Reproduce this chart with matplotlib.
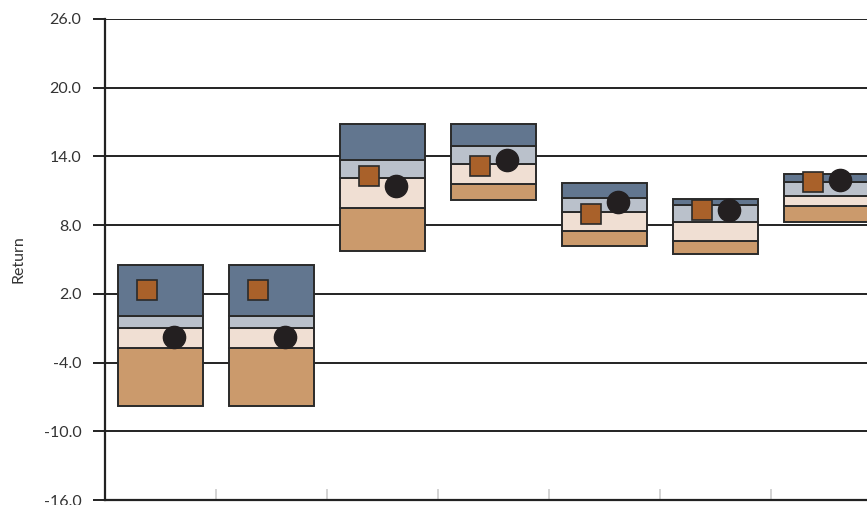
import numpy as np
from matplotlib import pyplot as plt

# percentile bands per group, bottom to top
p5 = [-7.8, -7.8, 5.7, 10.2, 6.2, 5.5, 8.3]
p25 = [-2.7, -2.7, 9.5, 11.55, 7.45, 6.6, 9.7]
p50 = [-1.0, -1.0, 12.1, 13.35, 9.15, 8.3, 10.55]
p75 = [0.1, 0.1, 13.7, 14.9, 10.4, 9.8, 11.8]
p95 = [4.5, 4.5, 16.8, 16.8, 11.65, 10.25, 12.5]
square_vals = [2.35, 2.35, 12.3, 13.15, 9.0, 9.35, 11.8]
circle_vals = [-1.76, -1.76, 11.4, 13.7, 10.05, 9.35, 11.95]

yticks = [-16, -10, -4, 2, 8, 14, 20, 26]

band_colors = ["#CB9A6C", "#F0DFD3", "#BAC1CB", "#62768F"]
edge = "#2a2a2a"

plt.rcParams['font.family'] = ['Lato', 'DejaVu Sans']

fig = plt.figure(figsize=(8.67, 5.05), dpi=100)
ax = fig.add_axes([105 / 867, 5 / 505, 777 / 867, 481 / 505])

x = np.arange(len(p5))
w = 0.757
levels = [p5, p25, p50, p75, p95]
for k in range(4):
    lo = np.array(levels[k])
    hi = np.array(levels[k + 1])
    ax.bar(x, hi - lo, bottom=lo, width=w, color=band_colors[k],
           edgecolor=edge, linewidth=1.4, zorder=3)

ax.plot(x - 0.125, square_vals, linestyle="none", marker="s", markersize=14.5,
        markerfacecolor="#A9612A", markeredgecolor=edge, markeredgewidth=1.2, zorder=5)
ax.plot(x + 0.12, circle_vals, linestyle="none", marker="o", markersize=16,
        markerfacecolor="#231F20", markeredgecolor="#231F20", zorder=6)

ax.set_xlim(-0.5, len(p5) - 0.5)
ax.set_ylim(-16, 26)
ax.set_yticks(yticks)
ax.set_yticklabels([f"{v:.1f}" for v in yticks], fontsize=11.5, color="#333333")
ax.yaxis.grid(True, color="#222222", linewidth=1.4, zorder=0)
ax.set_axisbelow(True)
ax.tick_params(axis="y", length=9, width=1.4, color="#222222", pad=8)

ax.set_xticks(np.arange(len(p5) - 1) + 0.5)
ax.set_xticklabels([])
ax.tick_params(axis="x", direction="in", length=8, width=1.2, color="#cccccc")

ax.set_ylabel("Return", fontsize=11.5, color="#333333")
ax.yaxis.set_label_coords(-80 / 777, 0.5)

for s in ["top", "right"]:
    ax.spines[s].set_visible(False)
ax.spines["left"].set_linewidth(1.6)
ax.spines["left"].set_color("#222222")
ax.spines["bottom"].set_linewidth(1.6)
ax.spines["bottom"].set_color("#222222")

plt.savefig("out.png", dpi=100)
plt.close()
